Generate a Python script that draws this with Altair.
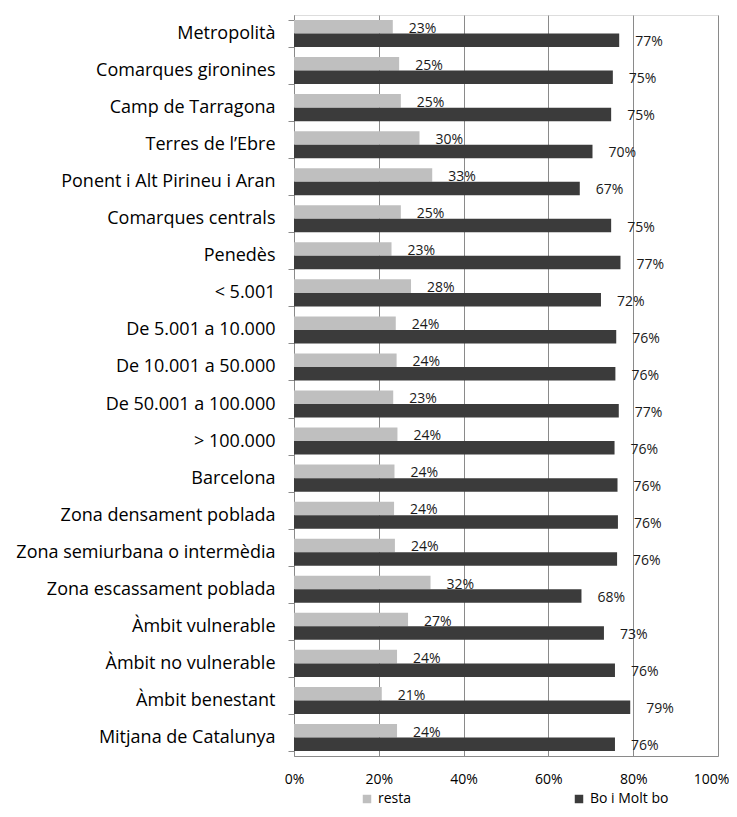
import altair as alt
import pandas as pd

categories = [
    "Metropolità", "Comarques gironines", "Camp de Tarragona", "Terres de l’Ebre",
    "Ponent i Alt Pirineu i Aran", "Comarques centrals", "Penedès", "< 5.001",
    "De 5.001 a 10.000", "De 10.001 a 50.000", "De 50.001 a 100.000", "> 100.000",
    "Barcelona", "Zona densament poblada", "Zona semiurbana o intermèdia",
    "Zona escassament poblada", "Àmbit vulnerable", "Àmbit no vulnerable",
    "Àmbit benestant", "Mitjana de Catalunya",
]
resta = [23.3, 24.8, 25.2, 29.6, 32.6, 25.2, 23.0, 27.6, 24.0, 24.2,
         23.4, 24.4, 23.7, 23.6, 23.8, 32.2, 26.9, 24.3, 20.7, 24.3]
bo_molt_bo = [76.7, 75.2, 74.8, 70.4, 67.4, 74.8, 77.0, 72.4, 76.0, 75.8,
              76.6, 75.6, 76.3, 76.4, 76.2, 67.8, 73.1, 75.7, 79.3, 75.7]
series = ["resta", "Bo i Molt bo"]
colors = ["#BFBFBF", "#3B3B3B"]
x_ticks = [0, 20, 40, 60, 80, 100]

rows = []
for c, r, b in zip(categories, resta, bo_molt_bo):
    rows.append({"cat": c, "serie": series[0], "value": r})
    rows.append({"cat": c, "serie": series[1], "value": b})
df = pd.DataFrame(rows)

FONT = "Open Sans"
GRID = "#8a8a8a"

y_enc = alt.Y(
    "cat:N", sort=categories, title=None,
    scale=alt.Scale(paddingInner=0.27, paddingOuter=0.135),
    axis=alt.Axis(
        labelFont=FONT, labelFontSize=18, labelColor="#000000",
        labelPadding=13, tickSize=6, tickBand="extent",
        tickColor=GRID, domainColor=GRID, grid=False, labelLimit=320,
    ),
)
yoff = alt.YOffset("serie:N", sort=series,
                   scale=alt.Scale(paddingInner=0, paddingOuter=0))
x_enc = alt.X(
    "value:Q", title=None,
    scale=alt.Scale(domain=[0, 100], nice=False),
    axis=alt.Axis(
        values=x_ticks, labelExpr="datum.value + '%'", ticks=False,
        labelFont=FONT, labelFontSize=14, labelColor="#000000",
        labelPadding=16, grid=True, gridColor=GRID, domainColor=GRID,
        labelFlush=False,
        labelOffset={"condition": {"test": "datum.value === 100", "value": -7}, "value": 0},
    ),
)

base = alt.Chart(df)

bars = base.mark_bar().encode(
    x=x_enc, y=y_enc, yOffset=yoff,
    color=alt.Color(
        "serie:N", sort=series,
        scale=alt.Scale(domain=series, range=colors),
        legend=alt.Legend(
            title=None, orient="none", direction="horizontal",
            legendX=66, legendY=777, symbolType="square", symbolSize=72,
            labelFont=FONT, labelFontSize=14, labelColor="#000000",
            labelOffset=4, columnPadding=160, padding=0,
            symbolStrokeWidth=0,
        ),
    ),
)

labels = base.transform_calculate(
    pct="datum.value / 100"
).mark_text(
    align="left", baseline="middle", dx=16, dy=2,
    font=FONT, fontSize=14, color="#1a1a1a",
).encode(
    x="value:Q",
    y=alt.Y("cat:N", sort=categories),
    yOffset=alt.YOffset("serie:N", sort=series),
    text=alt.Text("pct:Q", format=".0%"),
)

chart = alt.layer(bars, labels).properties(
    width=424, height=741,
    autosize=alt.AutoSizeParams(type="none"),
    padding={"left": 286, "top": 7, "right": 11, "bottom": 53},
).configure_view(stroke=GRID, strokeWidth=1).configure(background="white")

chart.save("out.html", embed_options={"renderer": "svg", "actions": False})
